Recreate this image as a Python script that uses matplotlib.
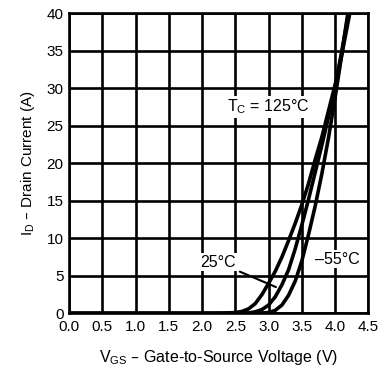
import numpy as np
from matplotlib import pyplot as plt

plt.rcParams['font.family'] = ['Liberation Sans', 'DejaVu Sans']

# transfer characteristics, I_D vs V_GS
v_125 = [0, 2.0, 2.3, 2.5, 2.6, 2.7, 2.8, 2.9, 3.0, 3.1, 3.2, 3.3, 3.4, 3.5, 3.6, 3.7, 3.8, 3.9, 4.0, 4.1, 4.22]
i_125 = [0, 0, 0.02, 0.1, 0.25, 0.6, 1.3, 2.5, 4.0, 5.6, 7.5, 9.7, 12.0, 14.5, 17.3, 20.5, 23.5, 27.0, 30.5, 34.5, 40]

v_25 = [0, 2.5, 2.7, 2.8, 2.9, 3.0, 3.1, 3.2, 3.3, 3.4, 3.5, 3.6, 3.7, 3.8, 3.9, 4.0, 4.1, 4.2]
i_25 = [0, 0, 0.05, 0.2, 0.5, 1.1, 2.2, 3.8, 5.8, 8.6, 11.8, 15.2, 18.8, 22.4, 26.2, 30.2, 35.0, 40]

v_m55 = [0, 2.8, 3.0, 3.1, 3.2, 3.3, 3.4, 3.5, 3.6, 3.7, 3.8, 3.9, 4.0, 4.1, 4.19]
i_m55 = [0, 0, 0.1, 0.4, 1.1, 2.4, 4.3, 7.0, 10.5, 14.3, 18.6, 23.4, 28.8, 34.5, 40]

xticks = np.arange(0, 4.51, 0.5)
yticks = np.arange(0, 41, 5)

fig = plt.figure(figsize=(3.81, 3.75), dpi=100)
ax = fig.add_axes([0.181, 0.1645, 0.786, 0.8])

for v, i in [(v_125, i_125), (v_25, i_25), (v_m55, i_m55)]:
    ax.plot(v, i, color='black', lw=2.6, solid_joinstyle='round', zorder=3)

ax.set_xlim(0, 4.5)
ax.set_ylim(0, 40)
ax.set_xticks(xticks)
ax.set_yticks(yticks)
ax.set_xticklabels(['%.1f' % x for x in xticks])
ax.grid(color='black', lw=1.9)
ax.tick_params(length=0, labelsize=11, pad=4)
ax.tick_params(axis='x', pad=5)
for s in ax.spines.values():
    s.set_linewidth(1.9)

box = dict(facecolor='white', edgecolor='none', pad=1)
ax.text(3.0, 27.5, r'T$_\mathregular{C}$ = 125°C', fontsize=11.5, ha='center', va='center', bbox=box, zorder=4)
ax.text(4.03, 7.2, '–55°C', fontsize=11.5, ha='center', va='center', bbox=box, zorder=4)
ax.annotate('25°C', xy=(3.11, 3.5), xytext=(2.24, 6.8), fontsize=11.5, ha='center', va='center',
            bbox=box, zorder=4, arrowprops=dict(arrowstyle='-', color='black', lw=1.5, shrinkA=2, shrinkB=0))

ax.set_xlabel(r'V$_\mathregular{GS}$ – Gate-to-Source Voltage (V)', fontsize=11.5, labelpad=10)
ax.set_ylabel(r'I$_\mathregular{D}$ – Drain Current (A)', fontsize=11, labelpad=7)

plt.savefig('out.png')
